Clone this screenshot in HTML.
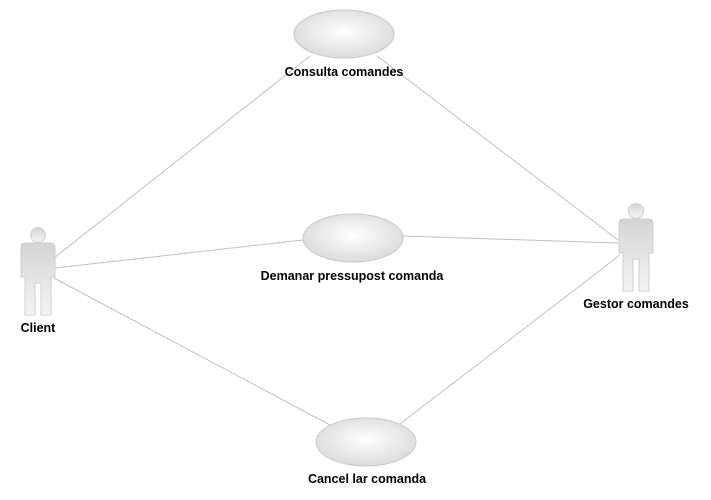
<!DOCTYPE html>
<html><head><style>
html,body{margin:0;padding:0;background:#fff;width:711px;height:500px;overflow:hidden}
text{font-family:"Liberation Sans","DejaVu Sans",sans-serif;font-weight:bold;font-size:12.5px;fill:#000}
</style></head><body>
<svg width="711" height="500" xmlns="http://www.w3.org/2000/svg">
<defs>
<radialGradient id="eg" cx="0.5" cy="0.45" r="0.6">
<stop offset="0" stop-color="#ffffff"/><stop offset="1" stop-color="#d8d8d8"/>
</radialGradient>
<linearGradient id="ag" x1="0" y1="0" x2="0" y2="1">
<stop offset="0" stop-color="#d4d4d4"/><stop offset="1" stop-color="#f4f4f4"/>
</linearGradient>
<g id="actor">
<circle cx="0" cy="0" r="7.5" fill="url(#ag)" stroke="#cfcfcf"/>
<path d="M-17,12 Q-17,8 -13,8 L13,8 Q17,8 17,12 L17,42 L13,42 L13,80 L3,80 L3,48 L-3,48 L-3,80 L-13,80 L-13,42 L-17,42 Z" fill="url(#ag)" stroke="#cfcfcf"/>
</g>
</defs>
<g stroke="#c0c0c0" stroke-width="1" fill="none">
<line x1="54" y1="258" x2="310" y2="56"/>
<line x1="55" y1="268" x2="303" y2="240"/>
<line x1="54" y1="278" x2="330" y2="425"/>
<line x1="377" y1="56" x2="618" y2="240"/>
<line x1="403" y1="236" x2="618" y2="243"/>
<line x1="400" y1="424" x2="620" y2="255"/>
</g>
<ellipse cx="344" cy="34" rx="50" ry="24" fill="url(#eg)" stroke="#c8c8c8"/>
<ellipse cx="353" cy="238" rx="50" ry="24" fill="url(#eg)" stroke="#c8c8c8"/>
<ellipse cx="366" cy="442" rx="50" ry="24" fill="url(#eg)" stroke="#c8c8c8"/>
<use href="#actor" x="38" y="235"/>
<use href="#actor" x="636" y="211"/>
<text x="344" y="76" text-anchor="middle">Consulta comandes</text>
<text x="352" y="280" text-anchor="middle">Demanar pressupost comanda</text>
<text x="367" y="483" text-anchor="middle">Cancel lar comanda</text>
<text x="38" y="332" text-anchor="middle">Client</text>
<text x="636" y="308" text-anchor="middle">Gestor comandes</text>
</svg>
</body></html>
